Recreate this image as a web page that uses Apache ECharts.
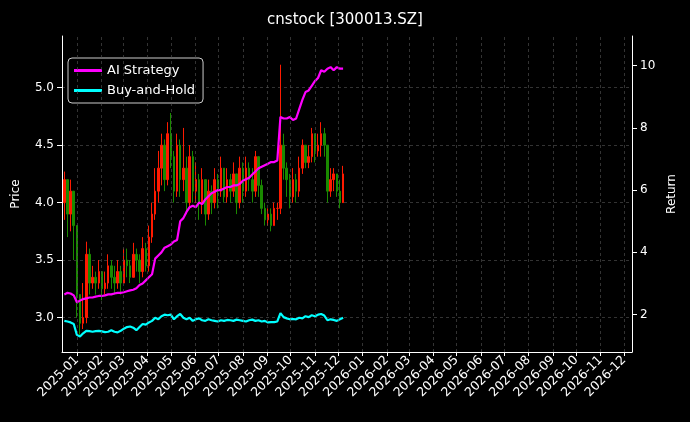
<!DOCTYPE html>
<html><head><meta charset="utf-8">
<script src="https://cdn.jsdelivr.net/npm/echarts@6/dist/echarts.min.js"></script>
<style>html,body{margin:0;padding:0;background:#000;}#c{width:690px;height:422px;}</style>
</head><body><div id="c"></div>
<script>
// dates: every 4 calendar days from 2024-12-16
const startDate = '2024-12-16';
const stepDays = 4;
const closes = [4.2,3.9,4.1,3.8, 3.2,2.95,3.0, 3.55,3.3,
 3.35,3.3,3.4,3.25,3.3,3.45,3.35,3.3,3.4,3.3,
 3.5,3.45,3.35,3.55,3.5, 3.4,3.6,3.45,3.7,
 3.9,4.1,4.3,4.5, 4.2,4.6,4.4,4.1,4.5,
 4.2,4.3,4.0,4.4,4.1,4.2, 4.0,4.2,3.9,4.1,4.0,4.2,
 4.1,4.3,4.05,4.2,4.1,4.25,4.0,4.3, 4.1,4.3,4.2,4.1,4.4,4.15,
 3.95,3.85,3.9,3.8,3.95,3.95, 4.5, 4.3,4.2,4.05,4.2,4.1,
 4.3,4.5,4.35,4.4,4.6,4.45,4.5, 4.6,4.5, 4.1,4.2,4.25,4.1,4.0,4.25];
const firstOpen = 4.0;
const highs = [4.27,4.2,4.2,4.0, 3.6,3.2,3.3, 3.66,3.6,
 3.45,3.4,3.5,3.4,3.4,3.55,3.5,3.45,3.5,3.45,
 3.6,3.6,3.5,3.65,3.6, 3.55,3.7,3.65,3.8,
 4.0,4.3,4.45,4.6, 4.55,4.7,4.78,4.45,4.6,
 4.55,4.65,4.4,4.5,4.45,4.35, 4.25,4.3,4.2,4.2,4.15,4.3,
 4.25,4.4,4.3,4.3,4.25,4.35,4.25,4.4, 4.35,4.4,4.35,4.3,4.45,4.4,
 4.2,4.0,3.95,3.95,4.0,4.0, 5.2, 4.6,4.35,4.25,4.3,4.25,
 4.4,4.55,4.5,4.5,4.65,4.6,4.6, 4.7,4.65, 4.5,4.3,4.3,4.25,4.2,4.32];
const lows = [3.85,3.7,3.75,3.5, 3.0,2.85,2.9, 2.95,3.2,
 3.25,3.2,3.25,3.15,3.2,3.25,3.25,3.2,3.25,3.2,
 3.3,3.35,3.3,3.35,3.4, 3.3,3.35,3.4,3.4,
 3.65,3.85,4.0,4.15, 4.1,4.15,4.3,4.0,4.05,
 4.05,4.1,3.9,3.95,4.0,4.0, 3.85,3.9,3.8,3.85,3.9,3.95,
 3.95,4.05,4.0,4.0,4.0,4.05,3.9,3.95, 4.0,4.05,4.1,4.0,4.05,4.05,
 3.9,3.8,3.8,3.75,3.8,3.85, 3.9, 4.2,4.05,3.95,4.0,4.0,
 4.05,4.25,4.3,4.3,4.35,4.35,4.4, 4.4,4.4, 4.0,4.05,4.1,4.05,3.95,4.05];
const aiStrategy = [2.65,2.7,2.68,2.62, 2.4,2.45,2.5,
 2.52,2.55,2.55,2.58,2.6,2.6,2.62,2.65,2.65,2.68,2.7,2.7,
 2.72,2.75,2.78,2.8,2.85, 2.95,3.0,3.1,3.2,3.3,
 3.8, 3.9,4.0,4.15, 4.2,4.25,4.35,4.4, 5.0,5.1,5.3,5.45,
 5.5,5.45,5.6,5.55, 5.7,5.8,5.9,5.95,
 6.0,6.0,6.05,6.1,6.1,6.15,6.15,6.2, 6.3,6.35,6.4,6.5,6.6,6.7,
 6.75,6.8,6.85,6.9,6.9,6.95, 8.35, 8.3,8.3,8.35,8.25,8.3,
 8.6,8.9,9.15, 9.2,9.35,9.5,9.6, 9.85,9.8,9.9,9.95, 9.85,9.95,9.9,9.9];
const buyHold = [1.8,1.78,1.75,1.7, 1.35,1.3,1.4,
 1.48,1.47,1.45,1.47,1.48,1.46,1.44,1.45,1.5,1.45,1.43,1.48,
 1.55,1.6,1.62,1.58,1.5, 1.6,1.7,1.68,1.75,1.8,
 1.9,1.85,1.95,2.0,1.98,2.0,1.85,1.95, 2.02,1.9,1.85,1.9,1.8,1.85,1.88,1.82,
 1.8,1.85,1.82,1.8,1.78,1.82,1.8,1.83,1.82,1.8,1.84,1.82,1.8,1.78,1.82,1.84,1.8,1.82,1.78,1.8,1.75,1.76,1.76,1.78,
 2.05, 1.92,1.88,1.85,1.86,1.85,
 1.9,1.88,1.95,1.92,1.98,1.95,2.0,2.02,1.97, 1.82,1.85,1.83,1.8,1.85,1.9];
const monthTicks = ['2025-01','2025-02','2025-03','2025-04','2025-05','2025-06','2025-07','2025-08','2025-09','2025-10','2025-11','2025-12',
 '2026-01','2026-02','2026-03','2026-04','2026-05','2026-06','2026-07','2026-08','2026-09','2026-10','2026-11','2026-12'];
const priceTicks = [3.0,3.5,4.0,4.5,5.0];
const returnTicks = [2,4,6,8,10];

const DAY = 86400000;
const t0 = Date.parse(startDate + 'T00:00:00Z');
const dates = closes.map((_, i) => t0 + i * stepDays * DAY);
const candles = closes.map((c, i) => [dates[i], i === 0 ? firstOpen : closes[i-1], c, lows[i], highs[i]]);
const monthTs = monthTicks.map(m => Date.parse(m + '-01T00:00:00Z'));
const pad = n => (n < 10 ? '0' : '') + n;
const fmtMonth = v => { const d = new Date(v); return d.getUTCFullYear() + '-' + pad(d.getUTCMonth() + 1); };
const txt = '#ffffff';
const gridLine = {show: true, lineStyle: {color: '#555', type: [3, 3], width: 0.6}};

const chart = echarts.init(document.getElementById('c'));
chart.setOption({
  backgroundColor: '#000',
  animation: false,
  title: {text: 'cnstock [300013.SZ]', left: 'center', top: 8, textStyle: {color: txt, fontSize: 15, fontWeight: 'normal', fontFamily: 'DejaVu Sans'}},
  legend: {
    left: 68, top: 58, orient: 'vertical', itemGap: 7, padding: [6, 8, 6, 6],
    borderColor: '#ccc', borderWidth: 1, borderRadius: 4, backgroundColor: '#000',
    icon: 'rect', itemWidth: 28, itemHeight: 3,
    textStyle: {color: txt, fontSize: 13, fontFamily: 'DejaVu Sans'},
    data: ['AI Strategy', 'Buy-and-Hold']
  },
  grid: {left: 62, right: 58, top: 36, bottom: 70},
  xAxis: {
    type: 'value', min: Date.parse('2024-12-13T00:00:00Z'), max: Date.parse('2026-12-11T00:00:00Z'),
    axisLine: {lineStyle: {color: '#fff'}},
    axisTick: {show: true, customValues: monthTs, lineStyle: {color: '#fff'}, length: 4},
    axisLabel: {customValues: monthTs, formatter: fmtMonth, rotate: 45, interval: 0, hideOverlap: false, color: txt, fontSize: 12.5, fontFamily: 'DejaVu Sans', margin: 6},
    splitLine: {show: false}
  },
  yAxis: [{
    type: 'value', min: 2.7, max: 5.45, name: 'Price', nameLocation: 'middle', nameGap: 40, nameRotate: 90,
    nameTextStyle: {color: txt, fontSize: 12, fontFamily: 'DejaVu Sans'},
    axisLine: {show: true, lineStyle: {color: '#fff'}},
    axisTick: {show: true, customValues: priceTicks, lineStyle: {color: '#fff'}},
    axisLabel: {customValues: priceTicks, formatter: v => v.toFixed(1), color: txt, fontSize: 12, fontFamily: 'DejaVu Sans'},
    splitLine: gridLine
  }, {
    type: 'value', min: 0.8, max: 10.95, name: 'Return', nameLocation: 'middle', nameGap: 30, nameRotate: 90,
    nameTextStyle: {color: txt, fontSize: 12, fontFamily: 'DejaVu Sans'},
    axisLine: {show: true, lineStyle: {color: '#fff'}},
    axisTick: {show: true, customValues: returnTicks, lineStyle: {color: '#fff'}},
    axisLabel: {customValues: returnTicks, color: txt, fontSize: 12, fontFamily: 'DejaVu Sans'},
    splitLine: {show: false}
  }],
  series: [{
    type: 'candlestick', name: 'Price', yAxisIndex: 0, barWidth: 2, z: 3,
    itemStyle: {color: '#ff1a00', color0: '#1a8a00', borderColor: '#ff1a00', borderColor0: '#1a8a00', borderWidth: 1},
    markLine: {silent: true, symbol: 'none', label: {show: false}, animation: false,
      lineStyle: {color: '#555', type: [3, 3], width: 0.6},
      data: monthTs.map(t => ({xAxis: t}))},
    data: candles
  }, {
    type: 'line', name: 'AI Strategy', yAxisIndex: 1, showSymbol: false, color: '#ff00ff', z: 4,
    lineStyle: {width: 2.2, color: '#ff00ff'}, data: dates.map((d, i) => [d, aiStrategy[i]])
  }, {
    type: 'line', name: 'Buy-and-Hold', yAxisIndex: 1, showSymbol: false, color: '#00ffff', z: 4,
    lineStyle: {width: 2.2, color: '#00ffff'}, data: dates.map((d, i) => [d, buyHold[i]])
  }]
});
</script></body></html>
